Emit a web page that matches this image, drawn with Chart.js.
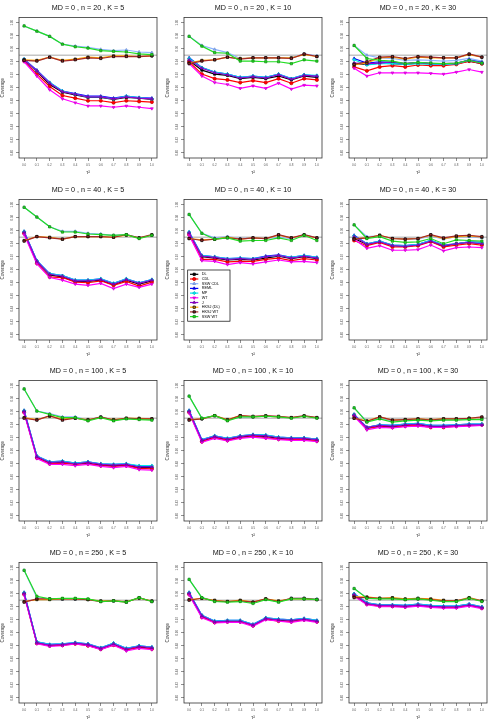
<!DOCTYPE html>
<html>
<head>
<meta charset="utf-8">
<script src="https://cdn.jsdelivr.net/npm/chart.js@4.4.1/dist/chart.umd.min.js"></script>
<style>
  html, body { margin: 0; padding: 0; background: #fff; }
  #wrap { position: relative; width: 495px; height: 726px; }
  #wrap canvas { position: absolute; }
</style>
</head>
<body>
<div id="wrap"></div>
<script>
// x 軸：tau^2
const tau2 = [0.0, 0.1, 0.2, 0.3, 0.4, 0.5, 0.6, 0.7, 0.8, 0.9, 1.0];
// 方法（圖例順序）
const methods = ['DL', 'CDL', 'SSW CDL', 'REML', 'MP', 'WT', 'J', 'HKSJ (DL)', 'HKSJ WT', 'SSW WT'];
const mdValue = 0;
const nValues = [20, 40, 100, 250];
const kValues = [5, 10, 30];
const yTicks = [0.80, 0.82, 0.84, 0.86, 0.88, 0.90, 0.92, 0.94, 0.96, 0.98, 1.00];
const nominal = 0.95;

// 每個面板：列順序同 methods
const cov_n20_K5 = [
  [0.943,0.925,0.905,0.893,0.889,0.885,0.885,0.882,0.885,0.884,0.882],
  [0.941,0.921,0.902,0.888,0.884,0.880,0.880,0.877,0.880,0.879,0.878],
  [0.995,0.987,0.979,0.967,0.964,0.962,0.959,0.957,0.958,0.955,0.954],
  [0.944,0.927,0.908,0.895,0.891,0.887,0.887,0.884,0.887,0.885,0.884],
  [0.944,0.926,0.908,0.895,0.890,0.886,0.886,0.883,0.887,0.885,0.883],
  [0.940,0.918,0.897,0.883,0.877,0.872,0.872,0.870,0.872,0.870,0.868],
  [0.943,0.926,0.907,0.894,0.890,0.886,0.886,0.883,0.886,0.884,0.883],
  [0.943,0.942,0.947,0.942,0.944,0.947,0.946,0.949,0.949,0.948,0.949],
  [0.942,0.941,0.947,0.941,0.943,0.946,0.945,0.948,0.948,0.948,0.949],
  [0.995,0.987,0.979,0.967,0.963,0.961,0.957,0.956,0.955,0.952,0.951]
];
const cov_n20_K10 = [
  [0.942,0.927,0.921,0.919,0.914,0.916,0.914,0.918,0.912,0.918,0.916],
  [0.940,0.921,0.914,0.912,0.908,0.911,0.908,0.914,0.907,0.914,0.912],
  [0.979,0.965,0.959,0.954,0.945,0.946,0.946,0.946,0.946,0.952,0.949],
  [0.946,0.931,0.924,0.921,0.916,0.918,0.916,0.921,0.914,0.920,0.918],
  [0.945,0.931,0.924,0.921,0.916,0.918,0.916,0.921,0.914,0.920,0.919],
  [0.937,0.918,0.908,0.905,0.899,0.903,0.899,0.907,0.898,0.904,0.903],
  [0.943,0.930,0.923,0.920,0.915,0.917,0.915,0.920,0.913,0.919,0.918],
  [0.938,0.942,0.943,0.947,0.945,0.946,0.946,0.946,0.946,0.951,0.948],
  [0.937,0.941,0.943,0.947,0.944,0.946,0.946,0.946,0.945,0.952,0.948],
  [0.979,0.964,0.954,0.953,0.941,0.941,0.940,0.940,0.937,0.943,0.941]
];
const cov_n20_K30 = [
  [0.937,0.936,0.938,0.937,0.936,0.938,0.937,0.937,0.937,0.941,0.937],
  [0.932,0.926,0.932,0.934,0.932,0.935,0.934,0.934,0.936,0.941,0.937],
  [0.965,0.950,0.946,0.945,0.942,0.943,0.942,0.941,0.942,0.945,0.941],
  [0.945,0.938,0.940,0.939,0.937,0.939,0.937,0.937,0.937,0.943,0.939],
  [0.943,0.935,0.937,0.937,0.936,0.937,0.936,0.936,0.937,0.942,0.938],
  [0.930,0.918,0.923,0.923,0.923,0.923,0.922,0.921,0.924,0.928,0.924],
  [0.938,0.937,0.938,0.940,0.937,0.939,0.937,0.937,0.938,0.942,0.938],
  [0.935,0.938,0.946,0.947,0.944,0.947,0.946,0.946,0.946,0.951,0.947],
  [0.936,0.940,0.947,0.948,0.945,0.948,0.947,0.946,0.946,0.952,0.947],
  [0.965,0.945,0.942,0.941,0.937,0.939,0.938,0.937,0.938,0.942,0.938]
];
const cov_n40_K5 = [
  [0.957,0.912,0.892,0.889,0.882,0.882,0.884,0.877,0.884,0.878,0.883],
  [0.956,0.910,0.889,0.888,0.881,0.880,0.883,0.876,0.882,0.875,0.881],
  [0.996,0.981,0.966,0.959,0.959,0.956,0.955,0.953,0.954,0.949,0.953],
  [0.959,0.914,0.894,0.891,0.884,0.884,0.886,0.879,0.886,0.880,0.885],
  [0.959,0.914,0.894,0.891,0.884,0.884,0.886,0.879,0.886,0.880,0.885],
  [0.954,0.909,0.888,0.884,0.878,0.876,0.879,0.871,0.878,0.873,0.878],
  [0.958,0.913,0.893,0.890,0.883,0.883,0.885,0.878,0.885,0.879,0.884],
  [0.945,0.951,0.950,0.947,0.951,0.951,0.951,0.950,0.953,0.949,0.953],
  [0.944,0.951,0.949,0.947,0.951,0.951,0.951,0.950,0.954,0.949,0.954],
  [0.996,0.981,0.966,0.958,0.958,0.955,0.954,0.953,0.954,0.948,0.953]
];
const cov_n40_K10 = [
  [0.956,0.920,0.918,0.915,0.916,0.915,0.918,0.921,0.917,0.920,0.917],
  [0.954,0.916,0.916,0.912,0.913,0.913,0.916,0.918,0.914,0.917,0.915],
  [0.985,0.956,0.949,0.951,0.948,0.949,0.948,0.950,0.948,0.954,0.949],
  [0.958,0.922,0.920,0.917,0.918,0.917,0.921,0.923,0.919,0.922,0.919],
  [0.958,0.922,0.920,0.917,0.918,0.917,0.920,0.922,0.919,0.922,0.919],
  [0.953,0.914,0.913,0.908,0.911,0.909,0.912,0.915,0.912,0.913,0.911],
  [0.957,0.921,0.919,0.916,0.917,0.916,0.920,0.922,0.918,0.921,0.918],
  [0.948,0.946,0.947,0.950,0.947,0.949,0.948,0.953,0.949,0.953,0.949],
  [0.948,0.945,0.947,0.949,0.947,0.949,0.948,0.954,0.949,0.954,0.949],
  [0.985,0.956,0.947,0.949,0.944,0.945,0.945,0.949,0.945,0.953,0.945]
];
const cov_n40_K30 = [
  [0.948,0.939,0.943,0.937,0.936,0.938,0.944,0.936,0.940,0.942,0.940],
  [0.945,0.937,0.942,0.935,0.935,0.937,0.943,0.935,0.938,0.940,0.938],
  [0.969,0.951,0.952,0.948,0.947,0.947,0.952,0.947,0.951,0.951,0.949],
  [0.953,0.940,0.944,0.938,0.937,0.939,0.945,0.938,0.940,0.943,0.942],
  [0.952,0.940,0.944,0.938,0.937,0.939,0.945,0.938,0.940,0.943,0.941],
  [0.947,0.933,0.937,0.930,0.930,0.931,0.938,0.929,0.934,0.935,0.934],
  [0.951,0.939,0.943,0.937,0.936,0.938,0.944,0.937,0.940,0.942,0.940],
  [0.948,0.949,0.953,0.948,0.947,0.948,0.953,0.948,0.951,0.952,0.950],
  [0.947,0.949,0.953,0.948,0.947,0.948,0.954,0.949,0.952,0.953,0.951],
  [0.969,0.948,0.951,0.944,0.942,0.943,0.948,0.940,0.946,0.945,0.944]
];
const cov_n100_K5 = [
  [0.960,0.890,0.881,0.882,0.880,0.881,0.878,0.877,0.878,0.874,0.874],
  [0.959,0.889,0.880,0.881,0.879,0.880,0.877,0.876,0.877,0.873,0.872],
  [0.995,0.961,0.957,0.952,0.952,0.947,0.952,0.947,0.949,0.949,0.948],
  [0.962,0.892,0.883,0.884,0.881,0.883,0.880,0.879,0.880,0.876,0.876],
  [0.962,0.892,0.883,0.884,0.881,0.883,0.880,0.879,0.880,0.877,0.877],
  [0.958,0.888,0.879,0.879,0.877,0.879,0.876,0.874,0.876,0.871,0.870],
  [0.961,0.891,0.882,0.883,0.880,0.882,0.879,0.878,0.879,0.875,0.875],
  [0.951,0.948,0.953,0.949,0.950,0.948,0.951,0.948,0.950,0.950,0.949],
  [0.950,0.947,0.954,0.947,0.950,0.947,0.952,0.947,0.950,0.949,0.949],
  [0.995,0.961,0.956,0.951,0.951,0.946,0.951,0.946,0.949,0.948,0.947]
];
const cov_n100_K10 = [
  [0.960,0.915,0.921,0.917,0.921,0.923,0.922,0.919,0.918,0.918,0.916],
  [0.959,0.914,0.920,0.916,0.920,0.922,0.920,0.918,0.917,0.917,0.915],
  [0.984,0.950,0.954,0.947,0.952,0.952,0.953,0.952,0.951,0.953,0.951],
  [0.962,0.917,0.923,0.919,0.923,0.925,0.924,0.921,0.920,0.920,0.918],
  [0.962,0.917,0.923,0.919,0.923,0.925,0.924,0.921,0.920,0.920,0.918],
  [0.958,0.913,0.919,0.915,0.919,0.921,0.919,0.917,0.916,0.916,0.914],
  [0.961,0.916,0.922,0.918,0.922,0.924,0.923,0.920,0.919,0.919,0.917],
  [0.948,0.949,0.954,0.948,0.954,0.952,0.953,0.952,0.951,0.953,0.951],
  [0.947,0.949,0.954,0.947,0.954,0.953,0.954,0.953,0.951,0.954,0.951],
  [0.984,0.950,0.954,0.946,0.952,0.952,0.953,0.952,0.950,0.953,0.950]
];
const cov_n100_K30 = [
  [0.955,0.935,0.938,0.937,0.939,0.940,0.937,0.937,0.939,0.940,0.940],
  [0.954,0.934,0.937,0.936,0.938,0.939,0.936,0.936,0.938,0.939,0.940],
  [0.966,0.945,0.950,0.946,0.947,0.948,0.947,0.948,0.948,0.949,0.949],
  [0.956,0.936,0.940,0.939,0.941,0.942,0.939,0.939,0.940,0.941,0.941],
  [0.956,0.936,0.940,0.939,0.941,0.942,0.939,0.939,0.940,0.941,0.941],
  [0.953,0.932,0.936,0.935,0.937,0.938,0.936,0.936,0.937,0.938,0.939],
  [0.955,0.936,0.939,0.938,0.940,0.941,0.938,0.938,0.939,0.940,0.940],
  [0.950,0.946,0.952,0.947,0.948,0.949,0.948,0.949,0.949,0.950,0.951],
  [0.950,0.945,0.952,0.947,0.948,0.949,0.947,0.949,0.949,0.950,0.952],
  [0.966,0.944,0.949,0.944,0.946,0.947,0.946,0.947,0.947,0.948,0.948]
];
const cov_n250_K5 = [
  [0.960,0.884,0.880,0.881,0.884,0.881,0.875,0.882,0.874,0.878,0.876],
  [0.959,0.884,0.880,0.881,0.883,0.880,0.875,0.881,0.874,0.877,0.875],
  [0.996,0.954,0.952,0.952,0.952,0.951,0.949,0.949,0.948,0.953,0.949],
  [0.962,0.886,0.882,0.883,0.885,0.883,0.877,0.884,0.876,0.880,0.878],
  [0.962,0.886,0.882,0.883,0.885,0.883,0.877,0.884,0.876,0.880,0.878],
  [0.958,0.883,0.879,0.880,0.883,0.880,0.874,0.881,0.872,0.876,0.874],
  [0.961,0.885,0.881,0.882,0.884,0.882,0.876,0.883,0.875,0.879,0.877],
  [0.948,0.951,0.951,0.952,0.952,0.951,0.949,0.949,0.948,0.953,0.949],
  [0.947,0.952,0.952,0.952,0.952,0.951,0.948,0.949,0.947,0.954,0.948],
  [0.996,0.956,0.952,0.953,0.953,0.952,0.948,0.949,0.947,0.954,0.948]
];
const cov_n250_K10 = [
  [0.960,0.925,0.916,0.917,0.917,0.911,0.921,0.919,0.918,0.920,0.917],
  [0.959,0.924,0.916,0.917,0.917,0.911,0.921,0.918,0.917,0.920,0.917],
  [0.982,0.954,0.949,0.948,0.949,0.946,0.952,0.948,0.953,0.953,0.952],
  [0.962,0.927,0.918,0.919,0.919,0.913,0.923,0.921,0.920,0.922,0.919],
  [0.962,0.927,0.918,0.919,0.919,0.913,0.923,0.921,0.920,0.922,0.919],
  [0.958,0.923,0.915,0.916,0.916,0.910,0.920,0.918,0.916,0.919,0.916],
  [0.961,0.926,0.917,0.918,0.918,0.912,0.922,0.920,0.919,0.921,0.918],
  [0.951,0.953,0.950,0.948,0.950,0.947,0.952,0.949,0.952,0.952,0.951],
  [0.950,0.953,0.949,0.948,0.949,0.947,0.952,0.948,0.953,0.953,0.951],
  [0.982,0.954,0.948,0.947,0.948,0.945,0.951,0.947,0.952,0.952,0.951]
];
const cov_n250_K30 = [
  [0.958,0.945,0.942,0.941,0.940,0.942,0.940,0.939,0.939,0.942,0.938],
  [0.957,0.944,0.941,0.941,0.940,0.942,0.940,0.939,0.939,0.942,0.938],
  [0.968,0.954,0.953,0.953,0.952,0.953,0.951,0.949,0.949,0.954,0.949],
  [0.960,0.946,0.943,0.943,0.942,0.944,0.942,0.941,0.941,0.944,0.940],
  [0.960,0.946,0.943,0.943,0.942,0.944,0.942,0.941,0.941,0.944,0.940],
  [0.956,0.943,0.940,0.940,0.939,0.941,0.939,0.938,0.938,0.941,0.937],
  [0.959,0.945,0.942,0.942,0.941,0.943,0.941,0.940,0.940,0.943,0.939],
  [0.955,0.955,0.953,0.954,0.952,0.953,0.952,0.950,0.949,0.954,0.949],
  [0.954,0.954,0.953,0.953,0.951,0.952,0.951,0.949,0.949,0.953,0.949],
  [0.968,0.953,0.952,0.952,0.951,0.952,0.950,0.948,0.948,0.953,0.948]
];

const panels = [
  [cov_n20_K5, cov_n20_K10, cov_n20_K30],
  [cov_n40_K5, cov_n40_K10, cov_n40_K30],
  [cov_n100_K5, cov_n100_K10, cov_n100_K30],
  [cov_n250_K5, cov_n250_K10, cov_n250_K30]
];

// 樣式
const lineColors = ['#000000', '#FF0000', '#8CB4FF', '#0000FF', '#00E5EE', '#FF00FF', '#9400D3', '#FFA500', '#A52A2A', '#22DD22'];
const pointBorders = ['#000000', '#CC0000', '#6F8FD0', '#0000CC', '#00B8C0', '#CC00CC', '#6A0099', '#000000', '#000000', '#118811'];
const pointStyles = ['rect', 'circle', 'triangle', 'triangle', 'rectRot', 'triangle', 'triangle', 'rect', 'rect', 'rect'];
const pointRotations = [0, 0, 0, 0, 0, 180, 0, 0, 0, 0];
const FONT = '"Liberation Sans", Arial, Helvetica, sans-serif';
const rowTops = [0, 182, 363, 545];
const PANEL_W = 165, PANEL_H = 181;
const legendPanel = [1, 1]; // n = 40, K = 10

/**
 * 面板裝飾：參考線、外框、標題、旋轉 y 刻度、圖例
 */
const panelDecor = {
  id: 'panelDecor',
  beforeDatasetsDraw(chart) {
    const { ctx, chartArea: a, scales } = chart;
    const y = scales.y.getPixelForValue(nominal);
    ctx.save();
    ctx.strokeStyle = '#C4C4C4';
    ctx.lineWidth = 1.3;
    ctx.beginPath();
    ctx.moveTo(a.left, y);
    ctx.lineTo(a.right, y);
    ctx.stroke();
    ctx.restore();
  },
  afterDraw(chart, args, opts) {
    const { ctx, chartArea: a, scales } = chart;
    ctx.save();
    // 外框
    ctx.strokeStyle = '#333';
    ctx.lineWidth = 0.8;
    ctx.strokeRect(a.left, a.top, a.right - a.left, a.bottom - a.top);

    // 標題
    ctx.fillStyle = '#111';
    ctx.font = '7.2px ' + FONT;
    ctx.textAlign = 'center';
    ctx.textBaseline = 'middle';
    ctx.fillText(opts.title, (a.left + a.right) / 2, 8.5);

    // y 刻度（旋轉）
    ctx.fillStyle = '#555';
    ctx.font = '2.9px ' + FONT;
    yTicks.forEach(v => {
      const y = scales.y.getPixelForValue(v);
      ctx.save();
      ctx.translate(a.left - 7, y);
      ctx.rotate(-Math.PI / 2);
      ctx.fillText(v.toFixed(2), 0, 0);
      ctx.restore();
    });

    if (opts.legend) drawLegend(chart);
    ctx.restore();
  }
};

function drawLegend(chart) {
  const { ctx, chartArea: a } = chart;
  const x0 = a.left + 3.7, y0 = a.top + 70.5, w = 42.3, h = 51.2;
  ctx.save();
  ctx.fillStyle = '#fff';
  ctx.fillRect(x0, y0, w, h);
  ctx.strokeStyle = '#000';
  ctx.lineWidth = 0.7;
  ctx.strokeRect(x0, y0, w, h);
  ctx.font = '3.8px ' + FONT;
  ctx.textAlign = 'left';
  ctx.textBaseline = 'middle';
  chart.data.datasets.forEach((ds, i) => {
    const y = y0 + 4.3 + i * 4.7;
    ctx.strokeStyle = ds.borderColor;
    ctx.lineWidth = 1.2;
    ctx.beginPath();
    ctx.moveTo(x0 + 2.3, y);
    ctx.lineTo(x0 + 10.6, y);
    ctx.stroke();
    ctx.fillStyle = ds.backgroundColor;
    ctx.strokeStyle = ds.pointBorderColor;
    ctx.lineWidth = 0.8;
    Chart.helpers.drawPoint(ctx, { pointStyle: ds.pointStyle, radius: 1.6, rotation: ds.pointRotation, borderWidth: 0.8 }, x0 + 6.5, y);
    ctx.fillStyle = '#000';
    ctx.fillText(ds.label, x0 + 14, y);
  });
  ctx.restore();
}

function makePanel(r, c) {
  const canvas = document.createElement('canvas');
  canvas.width = PANEL_W;
  canvas.height = PANEL_H;
  canvas.style.left = (c * PANEL_W) + 'px';
  canvas.style.top = rowTops[r] + 'px';
  document.getElementById('wrap').appendChild(canvas);

  const values = panels[r][c];
  const datasets = methods.map((m, i) => ({
    label: m,
    data: tau2.map((t, j) => ({ x: t, y: values[i][j] })),
    borderColor: lineColors[i],
    backgroundColor: lineColors[i],
    pointBorderColor: pointBorders[i],
    pointStyle: pointStyles[i],
    pointRotation: pointRotations[i],
    pointRadius: 1.6,
    pointBorderWidth: 0.7,
    borderWidth: 1.2,
    tension: 0,
    order: methods.length - i // 後面的方法畫在上層
  }));

  new Chart(canvas.getContext('2d'), {
    type: 'line',
    data: { datasets },
    options: {
      responsive: false,
      animation: false,
      devicePixelRatio: 1,
      layout: { padding: { top: 17.5, right: 8, left: 0, bottom: 0 } },
      plugins: {
        legend: { display: false },
        tooltip: { enabled: false },
        panelDecor: {
          title: `MD = ${mdValue} , n = ${nValues[r]} , K = ${kValues[c]}`,
          legend: r === legendPanel[0] && c === legendPanel[1]
        }
      },
      scales: {
        x: {
          type: 'linear',
          min: -0.04,
          max: 1.04,
          afterBuildTicks: s => { s.ticks = tau2.map(v => ({ value: v })); },
          afterFit: s => { s.height = PANEL_H - 158; },
          border: { display: false },
          grid: { drawOnChartArea: false, drawTicks: true, tickLength: 3, color: '#444', lineWidth: 0.6 },
          ticks: {
            autoSkip: false, maxRotation: 0, padding: 2, color: '#555',
            font: { size: 3, family: FONT },
            callback: v => Number(v).toFixed(1)
          },
          title: { display: true, text: 'τ²', color: '#333', font: { size: 5, family: FONT }, padding: { top: 0, bottom: 5 } }
        },
        y: {
          type: 'linear',
          min: 0.792,
          max: 1.008,
          afterBuildTicks: s => { s.ticks = yTicks.map(v => ({ value: v })); },
          afterFit: s => { s.width = 19; },
          border: { display: false },
          grid: { drawOnChartArea: false, drawTicks: true, tickLength: 3, color: '#444', lineWidth: 0.6 },
          ticks: { display: false },
          title: { display: true, text: 'Coverage', color: '#333', font: { size: 4.5, family: FONT }, padding: { top: 0, bottom: 0 } }
        }
      }
    },
    plugins: [panelDecor]
  });
}

for (let r = 0; r < nValues.length; r++) {
  for (let c = 0; c < kValues.length; c++) {
    makePanel(r, c);
  }
}
</script>
</body>
</html>
